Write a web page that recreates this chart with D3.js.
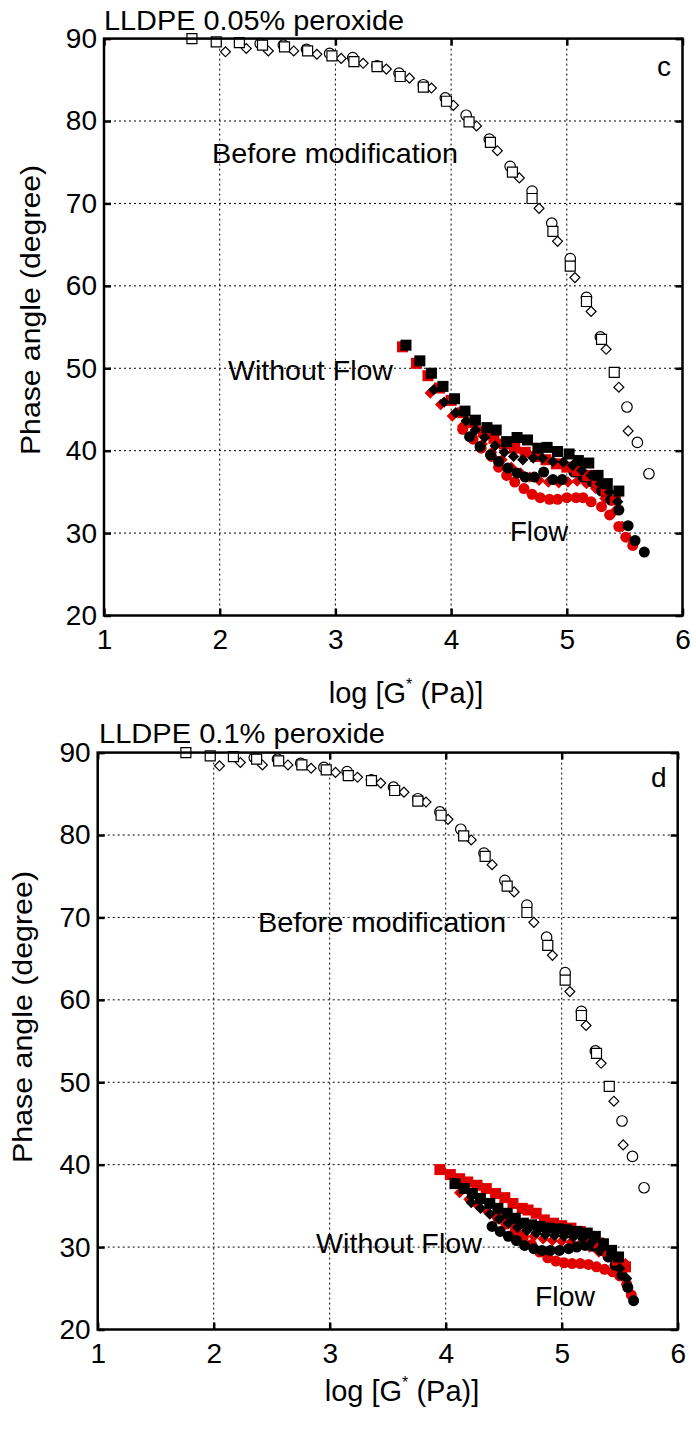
<!DOCTYPE html>
<html><head><meta charset="utf-8">
<script src="https://cdn.jsdelivr.net/npm/d3@7"></script>
<style>
body{margin:0;background:#fff}
svg{display:block}
text{font-family:"Liberation Sans",Arial,Helvetica,sans-serif;fill:#000}
</style>
</head><body>
<svg id="chart" width="696" height="1434"></svg>
<script>
// ---------- axis ticks ----------
const xTicks = [1, 2, 3, 4, 5, 6];
const yTicks = [20, 30, 40, 50, 60, 70, 80, 90];

// ---------- "Before modification" (open symbols), shared by both panels ----------
const openSqX = [1.76,1.97,2.17,2.37,2.56,2.76,2.97,3.16,3.36,3.56,3.76,3.96,4.155,4.34,4.53,4.70,4.88,5.03,5.17,5.30,5.41];
const openSqY = [90.0,89.6,89.5,89.2,89.0,88.5,87.9,87.2,86.6,85.4,84.1,82.4,79.9,77.4,73.8,70.6,66.6,62.4,58.1,53.5,49.5];
const openCiX = [2.35,2.55,2.75,2.95,3.15,3.36,3.55,3.76,3.95,4.13,4.33,4.51,4.70,4.87,5.03,5.17,5.29,5.52,5.61,5.71];
const openCiY = [89.4,89.2,88.7,88.2,87.7,86.7,85.8,84.4,82.8,80.7,77.8,74.5,71.5,67.6,63.3,58.6,53.8,45.3,41.0,37.2];
const openDiX = [2.05,2.23,2.42,2.64,2.84,3.05,3.24,3.44,3.64,3.83,4.02,4.22,4.40,4.59,4.76,4.92,5.07,5.21,5.34,5.45,5.53];
const openDiY = [88.4,88.8,88.5,88.5,88.1,87.6,87.0,86.3,85.2,84.0,81.9,79.4,76.4,73.1,69.4,65.4,61.0,56.9,52.3,47.7,42.4];

// ---------- panel c : 0.05% peroxide ----------
const cRedSqX = [3.58,3.70,3.80,3.90,4.00,4.10,4.19,4.28,4.37,4.46,4.55,4.64,4.73,4.82,4.91,5.00,5.09,5.18,5.26,5.34,5.42];
const cRedSqY = [52.6,50.6,49.1,47.6,46.1,44.6,43.4,42.3,41.5,40.8,40.3,39.8,39.3,38.9,38.4,38.0,37.6,37.0,36.2,35.2,34.0];
const cBlkSqX = [3.61,3.73,3.83,3.93,4.03,4.12,4.21,4.31,4.39,4.48,4.57,4.66,4.75,4.83,4.92,5.02,5.10,5.19,5.27,5.35,5.45];
const cBlkSqY = [52.8,50.9,49.4,47.8,46.3,44.8,43.7,42.8,42.5,41.1,41.6,41.3,40.3,40.4,39.9,39.6,38.8,38.5,37.0,36.0,35.1];
const cRedDiX = [3.82,3.91,4.01,4.10,4.18,4.27,4.35,4.44,4.52,4.60,4.68,4.76,4.84,4.93,5.01,5.09,5.17,5.25,5.33,5.41,5.48];
const cRedDiY = [47.0,45.6,44.2,43.0,41.9,40.8,39.8,38.9,38.0,37.3,36.8,36.4,36.2,36.1,36.2,36.3,36.0,35.4,34.2,32.6,30.8];
const cBlkDiX = [3.85,3.94,4.04,4.13,4.21,4.29,4.38,4.46,4.54,4.62,4.71,4.79,4.88,4.97,5.05,5.13,5.21,5.29,5.37,5.44];
const cBlkDiY = [47.4,45.9,44.6,43.6,42.5,41.6,40.6,39.8,39.3,38.9,39.1,39.1,38.7,38.6,38.2,37.6,37.0,36.0,35.0,33.8];
const cRedCiX = [4.10,4.19,4.26,4.35,4.41,4.48,4.55,4.63,4.70,4.77,4.85,4.92,5.00,5.08,5.14,5.21,5.30,5.37,5.45,5.51,5.57];
const cRedCiY = [42.6,41.4,40.3,39.3,38.0,37.0,36.2,35.4,34.7,34.3,34.1,34.1,34.3,34.3,34.3,33.8,33.2,32.2,30.8,29.5,28.5];
const cBlkCiX = [4.16,4.25,4.34,4.41,4.49,4.57,4.64,4.72,4.80,4.88,4.96,5.06,5.14,5.22,5.30,5.38,5.45,5.53,5.59,5.67];
const cBlkCiY = [41.7,40.5,39.5,38.7,37.9,37.3,36.8,36.8,37.4,36.5,36.5,37.4,36.8,36.2,35.1,34.0,32.8,30.9,29.1,27.7];

// ---------- panel d : 0.1% peroxide ----------
const dRedSqX = [3.95,4.04,4.12,4.19,4.27,4.35,4.43,4.51,4.58,4.66,4.71,4.78,4.85,4.93,5.00,5.08,5.16,5.24,5.32,5.40,5.48,5.55];
const dRedSqY = [39.4,38.8,38.3,37.9,37.5,37.1,36.5,36.0,35.3,34.7,34.5,34.1,33.3,32.9,32.6,32.3,31.9,31.3,30.5,29.5,28.4,27.6];
const dBlkSqX = [4.08,4.16,4.23,4.30,4.38,4.45,4.53,4.60,4.67,4.74,4.81,4.89,4.97,5.04,5.13,5.22,5.29,5.36,5.43,5.49];
const dBlkSqY = [37.7,37.1,36.5,35.9,35.3,34.7,34.1,33.5,32.9,32.7,32.5,32.3,32.2,32.1,31.9,31.7,31.3,30.4,29.6,28.8];
const dRedDiX = [4.12,4.20,4.28,4.36,4.44,4.52,4.60,4.68,4.76,4.84,4.92,5.00,5.08,5.16,5.24,5.32,5.40,5.48,5.55];
const dRedDiY = [36.6,35.8,35.0,34.3,33.6,33.0,32.4,31.8,31.3,31.0,30.8,30.7,30.6,30.4,30.0,29.4,28.8,28.2,28.0];
const dBlkDiX = [4.22,4.30,4.38,4.46,4.54,4.62,4.70,4.78,4.86,4.94,5.02,5.10,5.18,5.26,5.34,5.42,5.50,5.56];
const dBlkDiY = [35.4,34.7,34.0,33.4,32.9,32.4,32.0,31.7,31.5,31.4,31.3,31.2,31.0,30.6,29.8,28.8,27.4,26.2];
const dRedCiX = [4.45,4.52,4.60,4.67,4.74,4.81,4.88,4.95,5.02,5.09,5.16,5.23,5.30,5.37,5.44,5.50,5.56,5.60];
const dRedCiY = [33.5,32.8,32.0,31.2,30.3,29.4,28.7,28.3,28.1,28.0,28.0,27.9,27.6,27.3,27.0,26.5,25.5,24.2];
const dBlkCiX = [4.40,4.47,4.54,4.61,4.68,4.76,4.83,4.90,4.98,5.06,5.13,5.20,5.27,5.34,5.40,5.46,5.52,5.57,5.62];
const dBlkCiY = [32.5,31.9,31.3,30.8,30.2,29.8,29.6,29.6,29.6,29.8,30.0,30.2,30.1,29.6,28.8,27.8,26.6,25.1,23.5];

const RED = "#e00000";
const zip = (xs, ys) => xs.map((x, i) => ({x, y: ys[i]}));

const svg = d3.select("#chart");

function panel(cfg) {
  const x = d3.scaleLinear().domain([1, 6]).range([cfg.left, cfg.right]);
  const y = d3.scaleLinear().domain([20, 90]).range([cfg.bottom, cfg.top]);
  const g = svg.append("g");

  // grid
  g.append("g").selectAll("line").data(xTicks.slice(1, -1)).join("line")
    .attr("x1", d => x(d)).attr("x2", d => x(d)).attr("y1", cfg.top).attr("y2", cfg.bottom)
    .attr("stroke", "#000").attr("stroke-width", 1).attr("stroke-dasharray", "2,3");
  g.append("g").selectAll("line").data(yTicks.slice(1, -1)).join("line")
    .attr("y1", d => y(d)).attr("y2", d => y(d)).attr("x1", cfg.left).attr("x2", cfg.right)
    .attr("stroke", "#000").attr("stroke-width", 1).attr("stroke-dasharray", "2,3");

  // axes (inward ticks on all four sides)
  const fs = "28px";
  const ax = g.append("g").attr("transform", `translate(0,${cfg.bottom})`)
    .call(d3.axisBottom(x).tickValues(xTicks).tickFormat(d3.format("d")).tickSize(-7).tickPadding(14));
  const ax2 = g.append("g").attr("transform", `translate(0,${cfg.top})`)
    .call(d3.axisTop(x).tickValues(xTicks).tickFormat("").tickSize(-7));
  const ay = g.append("g").attr("transform", `translate(${cfg.left},0)`)
    .call(d3.axisLeft(y).tickValues(yTicks).tickFormat(d3.format("d")).tickSize(-7).tickPadding(7));
  const ay2 = g.append("g").attr("transform", `translate(${cfg.right},0)`)
    .call(d3.axisRight(y).tickValues(yTicks).tickFormat("").tickSize(-7));
  [ax, ax2, ay, ay2].forEach(a => {
    a.select(".domain").remove();
    a.selectAll(".tick line").attr("stroke", "#000").attr("stroke-width", 2.5);
    a.selectAll(".tick text").attr("font-size", fs).attr("font-family", "Liberation Sans, Arial, sans-serif").attr("fill", "#000");
  });

  // markers
  const sq = (s) => d3.symbol().type(d3.symbolSquare).size(s * s)();
  const ci = (dm) => d3.symbol().type(d3.symbolCircle).size(Math.PI * dm * dm / 4)();
  function draw(data, kind, fill, stroke, size, sw) {
    const path = kind === "c" ? ci(size) : sq(size);
    g.append("g").selectAll("path").data(data).join("path")
      .attr("d", path)
      .attr("transform", d => `translate(${x(d.x)},${y(d.y)})` + (kind === "d" ? " rotate(45)" : ""))
      .attr("fill", fill).attr("stroke", stroke).attr("stroke-width", sw);
  }
  // open "before modification"
  draw(zip(openDiX, openDiY), "d", "#fff", "#000", 7, 1.2);
  draw(zip(openCiX, openCiY), "c", "#fff", "#000", 10.5, 1.2);
  draw(zip(openSqX, openSqY), "s", "#fff", "#000", 10, 1.2);
  // filled
  const f = cfg.filled;
  draw(zip(f.redCiX, f.redCiY), "c", RED, "none", 11, 0);
  draw(zip(f.redDiX, f.redDiY), "d", RED, "none", 8, 0);
  draw(zip(f.blkCiX, f.blkCiY), "c", "#000", "none", 11, 0);
  draw(zip(f.redSqX, f.redSqY), "s", RED, "none", 11, 0);
  draw(zip(f.blkDiX, f.blkDiY), "d", "#000", "none", 8, 0);
  draw(zip(f.blkSqX, f.blkSqY), "s", "#000", "none", 11, 0);

  // frame
  g.append("rect").attr("x", cfg.left).attr("y", cfg.top)
    .attr("width", cfg.right - cfg.left).attr("height", cfg.bottom - cfg.top)
    .attr("fill", "none").attr("stroke", "#000").attr("stroke-width", 2.5);

  // texts
  const t = (txt, px, py, len) => {
    const e = g.append("text").attr("x", px).attr("y", py).attr("font-size", fs).text(txt);
    if (len) e.attr("textLength", len).attr("lengthAdjust", "spacingAndGlyphs");
    return e;
  };
  t(cfg.title, cfg.titleX, cfg.titleY, cfg.titleLen);
  t(cfg.letter, cfg.letterX, cfg.letterY);
  cfg.notes.forEach(n => t(n[0], n[1], n[2], n[3]));
  g.append("text").attr("transform", `translate(${cfg.ylabX},${cfg.ylabY}) rotate(-90)`)
    .attr("font-size", fs).attr("text-anchor", "middle")
    .attr("textLength", cfg.ylabLen).attr("lengthAdjust", "spacingAndGlyphs")
    .text("Phase angle (degree)");
  const xl = g.append("text").attr("x", cfg.xlabX).attr("y", cfg.xlabY)
    .attr("font-size", "29px").attr("text-anchor", "middle");
  xl.append("tspan").text("log [G");
  xl.append("tspan").attr("dy", -13).attr("font-size", "16px").text("*");
  xl.append("tspan").attr("dy", 13).text(" (Pa)]");
}

panel({
  left: 104, right: 682.5, top: 38.6, bottom: 615.5,
  title: "LLDPE 0.05% peroxide", titleX: 104, titleY: 30, titleLen: 300,
  letter: "c", letterX: 657, letterY: 76,
  ylabX: 40, ylabY: 310, ylabLen: 290,
  xlabX: 406, xlabY: 703,
  notes: [["Before modification", 212, 163, 246], ["Without Flow", 228, 380, 165], ["Flow", 510, 541, 58]],
  filled: {redSqX: cRedSqX, redSqY: cRedSqY, blkSqX: cBlkSqX, blkSqY: cBlkSqY,
           redDiX: cRedDiX, redDiY: cRedDiY, blkDiX: cBlkDiX, blkDiY: cBlkDiY,
           redCiX: cRedCiX, redCiY: cRedCiY, blkCiX: cBlkCiX, blkCiY: cBlkCiY}
});
panel({
  left: 97.7, right: 677.7, top: 752.6, bottom: 1329.5,
  title: "LLDPE 0.1% peroxide", titleX: 99, titleY: 743, titleLen: 286,
  letter: "d", letterX: 651, letterY: 787,
  ylabX: 32, ylabY: 1017, ylabLen: 292,
  xlabX: 402, xlabY: 1401,
  notes: [["Before modification", 258, 932, 248], ["Without Flow", 316, 1253, 166], ["Flow", 535, 1306, 60]],
  filled: {redSqX: dRedSqX, redSqY: dRedSqY, blkSqX: dBlkSqX, blkSqY: dBlkSqY,
           redDiX: dRedDiX, redDiY: dRedDiY, blkDiX: dBlkDiX, blkDiY: dBlkDiY,
           redCiX: dRedCiX, redCiY: dRedCiY, blkCiX: dBlkCiX, blkCiY: dBlkCiY}
});
</script>
</body></html>
